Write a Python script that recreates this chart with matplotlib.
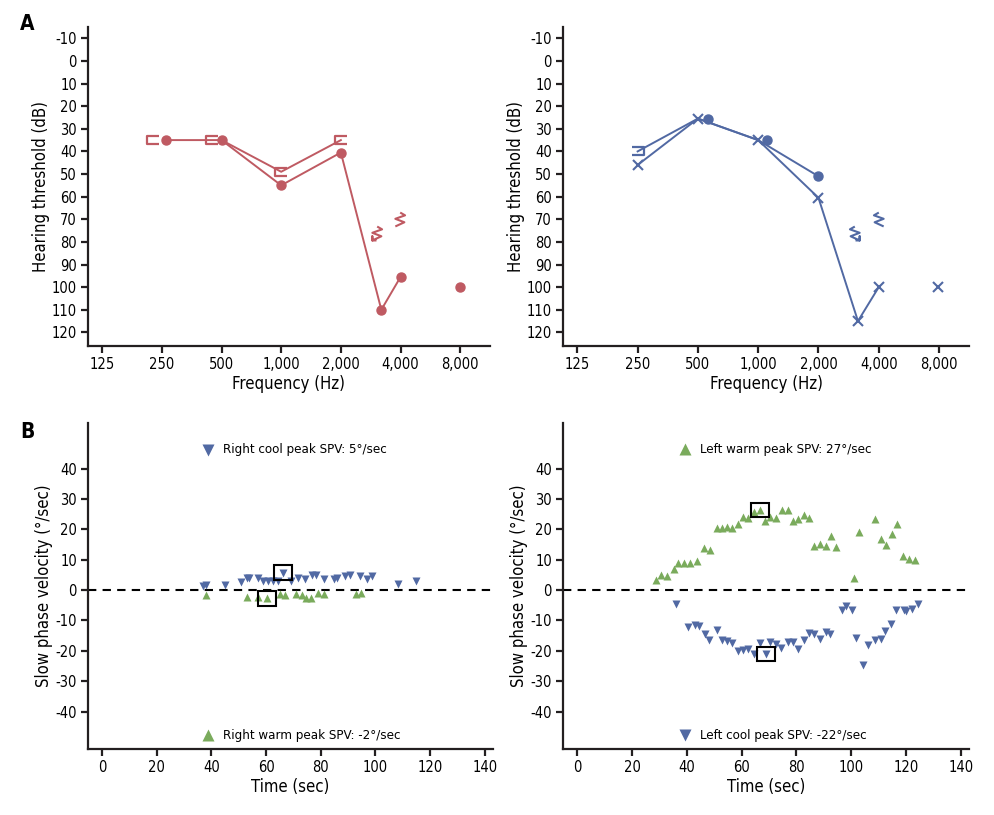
import matplotlib.pyplot as plt
from matplotlib.path import Path
from matplotlib.patches import Rectangle

plt.rcParams['font.family'] = ['DejaVu Sans']
plt.rcParams['font.stretch'] = 'condensed'
plt.rcParams['axes.unicode_minus'] = False

RED = '#bf5a62'
BLUE = '#5169a3'
GREEN = '#7aab5c'

# ---- audiogram data ----
freq_ticks = [125, 250, 500, 1000, 2000, 4000, 8000]
freq_labels = ['125', '250', '500', '1,000', '2,000', '4,000', '8,000']
db_ticks = list(range(-10, 121, 10))

# right ear (red)
r_air_f = [262, 500, 1000, 2000, 3200, 4000]
r_air_db = [35, 35, 55, 40.5, 110, 95.5]
r_air_single_f = [8000]
r_air_single_db = [100]
r_bone_line_f = [500, 1000, 2000]
r_bone_line_db = [35, 49, 35]
r_bone_f = [225, 450, 1000, 2000]
r_bone_db = [35, 35, 49, 35]
r_vib_arrow = (3000, 76)
r_vib = (3950, 70)

# left ear (blue)
l_air_f = [250, 500, 1000, 2000, 3150, 4000]
l_air_db = [46, 25.5, 35, 60.5, 115, 100]
l_air_single_f = [7900]
l_air_single_db = [100]
l_line2_f = [250, 500, 1000, 2000]
l_line2_db = [40, 25.5, 35, 51]
l_circ_f = [561, 1110, 2000]
l_circ_db = [25.5, 35, 51]
l_bone_f = [250]
l_bone_db = [40]
l_vib_arrow = (3050, 76)
l_vib = (4000, 70)

# ---- caloric data ----
spv_ticks = [-40, -30, -20, -10, 0, 10, 20, 30, 40]
time_ticks = [0, 20, 40, 60, 80, 100, 120, 140]

rc_t = [37.0, 38.0, 45.0, 50.8, 52.9, 53.9, 56.9, 59.0, 60.8, 62.4, 64.5, 66.3,
        69.0, 71.8, 74.3, 76.7, 78.3, 81.0, 85.0, 86.1, 88.9, 90.8, 94.4, 96.9,
        98.7, 108.1, 114.8]
rc_v = [1.3, 1.8, 1.8, 2.6, 4.0, 4.0, 4.0, 3.0, 3.0, 3.0, 3.0, 5.7,
        3.0, 4.0, 3.7, 4.9, 5.1, 3.5, 3.7, 4.0, 4.6, 5.1, 4.5, 3.7,
        4.6, 2.1, 3.0]
rc_peak = 11

rw_t = [38.0, 53.1, 56.9, 60.2, 64.9, 66.9, 71.0, 73.0, 74.6, 76.3, 78.9, 81.0,
        92.8, 94.7]
rw_v = [-1.75, -2.2, -2.2, -2.7, -1.4, -1.75, -1.4, -1.75, -2.5, -2.7, -1.1, -1.4,
        -1.4, -1.1]
rw_peak = 3

lw_t = [28.9, 30.7, 32.6, 35.3, 36.9, 38.9, 41.1, 43.6, 46.2, 48.4, 51.1, 52.7,
        54.5, 56.6, 58.6, 60.6, 62.5, 64.6, 66.8, 68.6, 70.4, 72.5, 74.7, 76.8,
        78.6, 80.4, 82.6, 84.7, 86.5, 88.5, 90.8, 92.6, 94.6, 100.9, 103.0, 108.5,
        110.7, 112.8, 115.0, 116.8, 118.9, 121.1, 123.2]
lw_v = [3.3, 5.1, 4.6, 7.1, 8.8, 8.8, 9.0, 9.7, 13.7, 13.1, 20.5, 20.5,
        20.9, 20.4, 21.9, 24.1, 23.6, 25.8, 26.4, 22.9, 24.2, 23.7, 26.2, 26.4,
        22.6, 23.4, 24.8, 23.6, 14.5, 15.1, 14.5, 17.8, 14.3, 3.9, 19.0, 23.4,
        16.8, 14.9, 18.4, 21.9, 11.2, 10.1, 9.8]
lw_peak = 18

lc_t = [36.0, 40.3, 42.9, 44.5, 46.6, 48.1, 50.9, 52.7, 54.5, 56.6, 58.6, 60.6,
        62.5, 64.6, 66.8, 68.8, 70.4, 72.5, 74.4, 76.8, 78.6, 80.6, 82.6, 84.5,
        86.5, 88.5, 90.8, 92.4, 96.6, 98.2, 100.1, 101.9, 104.3, 106.2, 108.6,
        110.7, 112.3, 114.4, 116.4, 119.2, 120.1, 122.3, 124.4]
lc_v = [-4.7, -12.1, -11.4, -11.9, -14.6, -16.3, -13.3, -16.3, -16.9, -17.4, -20.2, -19.6,
        -19.4, -21.1, -17.4, -21.1, -17.1, -17.7, -19.0, -17.1, -17.1, -19.4, -16.3, -14.1,
        -14.4, -16.0, -13.9, -14.4, -6.6, -5.3, -6.6, -15.7, -24.6, -18.2, -16.5,
        -16.0, -13.5, -11.0, -6.6, -6.6, -6.9, -6.1, -4.5]
lc_peak = 15

# ---- marker shapes ----
bracket_l = Path([(0.5, 0.4), (-0.5, 0.4), (-0.5, -0.4), (0.5, -0.4)])
bracket_r = Path([(-0.5, 0.4), (0.5, 0.4), (0.5, -0.4), (-0.5, -0.4)])
zig_pts = [(0.05, 0.5), (0.4, 0.3), (-0.3, 0.05), (0.35, -0.2), (-0.3, -0.5)]
arrow_pts = [(-0.3, -0.5), (-0.3, -0.2), (-0.3, -0.5), (0.0, -0.5)]


def zig(mirror=False, arrow=False):
    pts = list(zig_pts) + (arrow_pts[1:] if arrow else [])
    if mirror:
        pts = [(-x, y) for x, y in pts]
    return Path(pts)


fig = plt.figure(figsize=(9.94, 8.15), dpi=100)
ax_tl = fig.add_axes([0.0885, 0.5755, 0.4044, 0.3914])
ax_tr = fig.add_axes([0.5664, 0.5755, 0.4085, 0.3914])
ax_bl = fig.add_axes([0.0885, 0.0810, 0.4074, 0.4000])
ax_br = fig.add_axes([0.5664, 0.0810, 0.4085, 0.4000])


def style(ax):
    for s in ['top', 'right']:
        ax.spines[s].set_visible(False)
    for s in ['left', 'bottom']:
        ax.spines[s].set_linewidth(1.6)
        ax.spines[s].set_color('#231f20')
    ax.tick_params(width=1.6, length=5, labelsize=10.5, color='#231f20', pad=3)


# audiograms
for ax in (ax_tl, ax_tr):
    style(ax)
    ax.set_xscale('log')
    ax.set_xlim(106, 11300)
    ax.set_ylim(126, -15)
    ax.set_xticks(freq_ticks)
    ax.set_xticklabels(freq_labels)
    ax.minorticks_off()
    ax.set_yticks(db_ticks)
    ax.set_xlabel('Frequency (Hz)', fontsize=12, labelpad=2)
    ax.set_ylabel('Hearing threshold (dB)', fontsize=12, labelpad=1.5)

lw = 1.4
ax_tl.plot(r_air_f, r_air_db, color=RED, lw=lw, marker='o', ms=6.5)
ax_tl.plot(r_air_single_f, r_air_single_db, ls='none', color=RED, marker='o', ms=6.5)
ax_tl.plot(r_bone_line_f, r_bone_line_db, color=RED, lw=lw)
ax_tl.plot(r_bone_f, r_bone_db, ls='none', marker=bracket_l, ms=8, mew=1.6,
           mec=RED, mfc='none')
for (f, d), arr in ((r_vib_arrow, True), (r_vib, False)):
    ax_tl.plot([f], [d], ls='none', marker=zig(arrow=arr), ms=10, mew=1.5,
               mec=RED, mfc='none')

ax_tr.plot(l_air_f, l_air_db, color=BLUE, lw=lw, marker='x', ms=7.5, mew=1.5)
ax_tr.plot(l_air_single_f, l_air_single_db, ls='none', color=BLUE, marker='x',
           ms=7.5, mew=1.5)
ax_tr.plot(l_line2_f, l_line2_db, color=BLUE, lw=lw)
ax_tr.plot(l_circ_f, l_circ_db, ls='none', color=BLUE, marker='o', ms=6.5)
ax_tr.plot(l_bone_f, l_bone_db, ls='none', marker=bracket_r, ms=8, mew=1.6,
           mec=BLUE, mfc='none')
for (f, d), arr in ((l_vib_arrow, True), (l_vib, False)):
    ax_tr.plot([f], [d], ls='none', marker=zig(mirror=True, arrow=arr), ms=10,
               mew=1.5, mec=BLUE, mfc='none')

# caloric
for ax in (ax_bl, ax_br):
    style(ax)
    ax.set_xlim(-5.2, 143)
    ax.set_ylim(-52.3, 55)
    ax.set_xticks(time_ticks)
    ax.set_yticks(spv_ticks)
    ax.axhline(0, color='black', lw=1.5, ls=(0, (4, 3)))
    ax.set_xlabel('Time (sec)', fontsize=12, labelpad=2)
    ax.set_ylabel('Slow phase velocity (\u00b0/sec)', fontsize=12, labelpad=1.5)


def series(ax, t, v, peak, marker, color):
    ax.plot(t, v, ls='none', marker=marker, ms=5.5, color=color, mec='none')
    ax.add_patch(Rectangle((t[peak] - 3.3, v[peak] - 2.4), 6.6, 4.8, fill=False,
                           ec='black', lw=1.5, zorder=5))


series(ax_bl, rc_t, rc_v, rc_peak, 'v', BLUE)
series(ax_bl, rw_t, rw_v, rw_peak, '^', GREEN)
series(ax_br, lw_t, lw_v, lw_peak, '^', GREEN)
series(ax_br, lc_t, lc_v, lc_peak, 'v', BLUE)


def note(ax, x, y, marker, color, text):
    ax.plot([x], [y], ls='none', marker=marker, ms=9, color=color, mec='none',
            clip_on=False)
    ax.text(x + 5.5, y, text, fontsize=9.5, va='center', ha='left')


note(ax_bl, 38.7, 46.2, 'v', BLUE, 'Right cool peak SPV: 5\u00b0/sec')
note(ax_bl, 38.7, -47.7, '^', GREEN, 'Right warm peak SPV: -2\u00b0/sec')
note(ax_br, 39.3, 46.3, '^', GREEN, 'Left warm peak SPV: 27\u00b0/sec')
note(ax_br, 39.3, -47.7, 'v', BLUE, 'Left cool peak SPV: -22\u00b0/sec')

fig.text(0.020, 0.963, 'A', fontsize=15, fontweight='bold')
fig.text(0.020, 0.462, 'B', fontsize=15, fontweight='bold')

fig.savefig('out.png', dpi=100)
